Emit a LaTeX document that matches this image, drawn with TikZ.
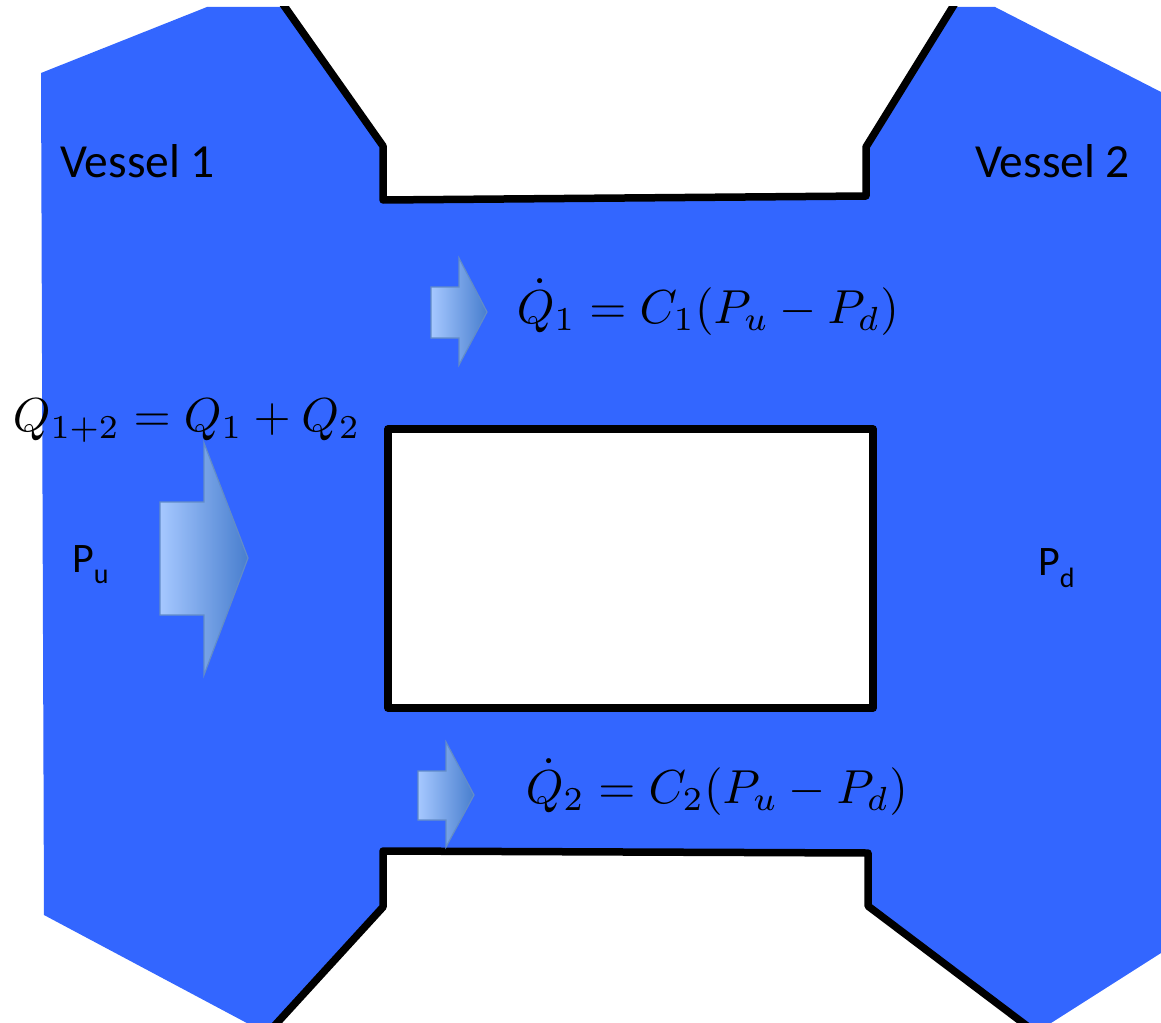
\documentclass[tikz,border=0pt]{standalone}
\usepackage{fontspec}
\newfontfamily\labelfont{Carlito}
\usepackage{xcolor}

\definecolor{vesselblue}{RGB}{51,102,255}
\definecolor{flowlight}{RGB}{166,200,255}
\definecolor{flowdark}{RGB}{72,126,206}
\definecolor{flowedge}{RGB}{98,140,200}

\begin{document}
\begin{tikzpicture}[
  x=1pt, y=-1pt,
  vessel/.style={fill=vesselblue, draw=none},
  wall/.style={line width=7.5pt, black, line join=round},
  flow/.style={draw=flowedge, line width=1.2pt, left color=flowlight, right color=flowdark},
  vesselname/.style={anchor=base west, inner sep=0pt, font=\labelfont\fontsize{47.5}{50}\selectfont},
  presslabel/.style={anchor=base west, inner sep=0pt, font=\labelfont\fontsize{42}{46}\selectfont},
  eqn/.style={anchor=base west, inner sep=0pt, scale=4.77},
]
  \useasboundingbox (0,0) rectangle (1161,1022);
  \clip (0,0) rectangle (1161,1022);

  % --- Fluid region (both vessels and the two channels) ---
  \path[vessel] (41,73) -- (207,7) -- (284,7) -- (383,146) -- (383,200)
    -- (866,196) -- (866,147) -- (952,7) -- (995,7) -- (1161,92)
    -- (1161,953) -- (1040,1030) -- (1033,1030) -- (868,906) -- (868,853)
    -- (383,851) -- (383,907) -- (271,1030) -- (260,1030) -- (44,915) -- cycle;

  % --- Solid block between the channels ---
  \draw[wall, fill=white] (388,429) rectangle (873,708);

  % --- Channel walls ---
  \begin{scope}
    \clip (0,7) rectangle (1161,1040);
    \draw[wall] (280,0) -- (383,146) -- (383,200) -- (866,196) -- (866,147) -- (957,0);
  \end{scope}
  \draw[wall] (266,1035) -- (383,907) -- (383,851) -- (868,853) -- (868,906) -- (1039,1035);

  % --- Flow arrows ---
  \path[flow] (160,502) -- (204,502) -- (204,443) -- (248,558) -- (204,675)
    -- (204,615) -- (160,615) -- cycle;
  \path[flow] (431,287) -- (459,287) -- (459,258) -- (487,312) -- (459,365)
    -- (459,338) -- (431,338) -- cycle;
  \path[flow] (418,771) -- (446,771) -- (446,742) -- (474,795) -- (446,847)
    -- (446,820) -- (418,820) -- cycle;

  % --- Labels ---
  \node[vesselname] (v1) at (60,177) {Vessel 1};
  \node[vesselname] (v2) at (975,177) {Vessel 2};

  \node[presslabel] (pu) at (72,572) {P\raisebox{-11pt}{\fontsize{28}{30}\selectfont u}};
  \node[presslabel] (pd) at (1038,575) {P\raisebox{-12pt}{\fontsize{28}{30}\selectfont d}};

  \node[eqn] (qsum) at (12,431) {$Q_{1+2}=Q_1+Q_2$};
  \node[eqn] (q1) at (516,323) {$\dot Q_1=C_1(P_u-P_d)$};
  \node[eqn] (q2) at (525,803) {$\dot Q_2=C_2(P_u-P_d)$};
\end{tikzpicture}
\end{document}
